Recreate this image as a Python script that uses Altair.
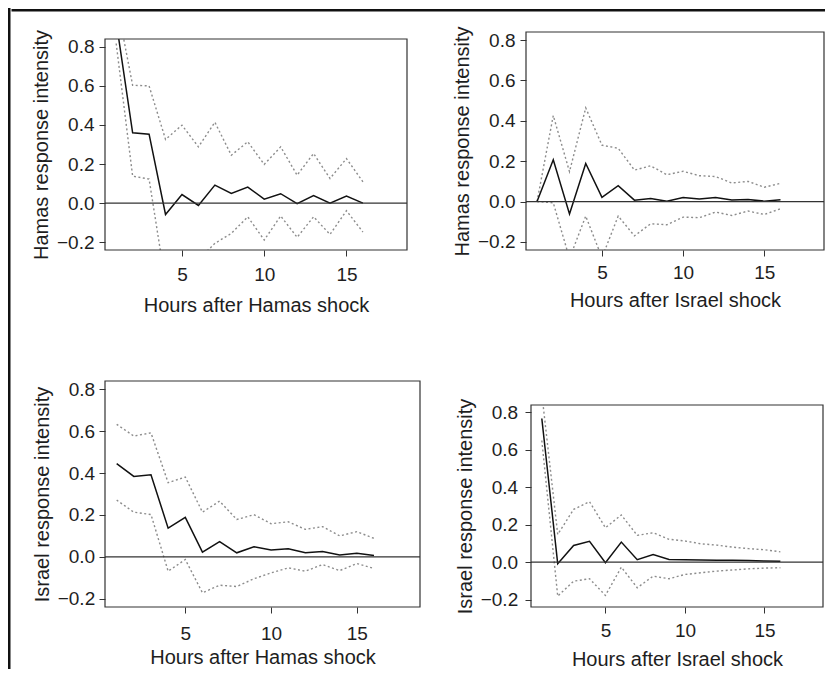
import altair as alt
import pandas as pd

# ---------------- data ----------------
hours = list(range(1, 17))

# Hamas response to a Hamas shock
hh_est = [0.93, 0.36, 0.353, -0.058, 0.044, -0.012, 0.092, 0.05, 0.082, 0.02, 0.048, -0.003, 0.038, 0.0, 0.036, 0.0]
hh_hi = [1.04, 0.603, 0.60, 0.326, 0.399, 0.288, 0.414, 0.245, 0.314, 0.198, 0.288, 0.143, 0.254, 0.126, 0.228, 0.109]
hh_lo = [0.817, 0.138, 0.123, -0.41, -0.31, -0.29, -0.206, -0.155, -0.07, -0.189, -0.066, -0.175, -0.07, -0.16, -0.039, -0.148]

# Hamas response to an Israel shock
hi_est = [0.0, 0.207, -0.062, 0.189, 0.021, 0.079, 0.007, 0.015, 0.002, 0.02, 0.013, 0.02, 0.008, 0.01, 0.002, 0.009]
hi_hi = [0.0, 0.426, 0.148, 0.464, 0.279, 0.264, 0.156, 0.177, 0.133, 0.15, 0.128, 0.124, 0.092, 0.1, 0.071, 0.09]
hi_lo = [0.0, -0.006, -0.282, -0.072, -0.278, -0.072, -0.17, -0.11, -0.115, -0.077, -0.08, -0.052, -0.069, -0.047, -0.064, -0.036]

# Israel response to a Hamas shock
ih_est = [0.445, 0.384, 0.392, 0.137, 0.188, 0.022, 0.072, 0.019, 0.048, 0.032, 0.038, 0.019, 0.025, 0.008, 0.017, 0.006]
ih_hi = [0.633, 0.577, 0.592, 0.354, 0.381, 0.213, 0.266, 0.178, 0.201, 0.158, 0.167, 0.131, 0.144, 0.1, 0.12, 0.088]
ih_lo = [0.271, 0.213, 0.202, -0.069, -0.013, -0.172, -0.136, -0.142, -0.105, -0.077, -0.053, -0.069, -0.037, -0.066, -0.032, -0.056]

# Israel response to an Israel shock
ii_est = [0.768, -0.009, 0.089, 0.111, -0.003, 0.107, 0.013, 0.04, 0.014, 0.012, 0.011, 0.01, 0.01, 0.009, 0.006, 0.004]
ii_hi = [0.90, 0.148, 0.282, 0.323, 0.184, 0.252, 0.143, 0.157, 0.122, 0.113, 0.098, 0.091, 0.08, 0.072, 0.066, 0.055]
ii_lo = [0.65, -0.182, -0.102, -0.089, -0.178, -0.027, -0.137, -0.075, -0.089, -0.066, -0.057, -0.048, -0.042, -0.036, -0.032, -0.03]

y_ticks = [-0.2, 0.0, 0.2, 0.4, 0.6, 0.8]
x_ticks = [5, 10, 15]

# ---------------- layout (reference pixel positions) ----------------
FX0, FY0, FT = 5, 5, 2.5          # outer frame: left x, top y, thickness
GX0 = FX0 + FT                    # left edge of the panel grid
X_SPLIT, Y_SPLIT = 432, 340
X_END, Y_END = 821, 666

FONT = "Liberation Sans"
TXT = "#1e1e1e"
one = pd.DataFrame({"k": [0]})


def rect(x0, x1, y0, y1, opacity=1.0):
    return alt.Chart(one).mark_rect(color="#111111", opacity=opacity).encode(
        x=alt.value(x0), x2=alt.value(x1), y=alt.value(y0), y2=alt.value(y1)
    )


def pad(x, y):
    return rect(x, x, y, y, opacity=0)


def spacer():
    return pad(0, 0).properties(width=1, height=1)


def panel(est, lo, hi, xtitle, ytitle, L, T, W, H, parts, xlp, xtp, ylp, ytp, dy=0):
    df = pd.DataFrame({
        "hour": hours * 3,
        "value": est + lo + hi,
        "series": ["est"] * 16 + ["lower"] * 16 + ["upper"] * 16,
    })
    x = alt.X("hour:Q", scale=alt.Scale(domain=[0.32, 18.68], nice=False, zero=False),
              axis=alt.Axis(values=x_ticks, format="d", title=xtitle, labelPadding=xlp,
                            titlePadding=xtp, labelFlush=False))
    y = alt.Y("value:Q", scale=alt.Scale(domain=[-0.24, 0.84], nice=False, zero=False),
              axis=alt.Axis(values=y_ticks, format=".1f", title=ytitle, labelPadding=ylp,
                            titlePadding=ytp, labelFlush=False))
    ci = alt.Chart(df).transform_filter(alt.datum.series != "est").mark_line(
        clip=True, color="#8c8c8c", strokeDash=[2, 2.5], strokeWidth=1.4
    ).encode(x=x, y=y, detail="series:N")
    main = alt.Chart(df).transform_filter(alt.datum.series == "est").mark_line(
        clip=True, color="#111111", strokeWidth=1.5
    ).encode(x=x, y=y)
    zero = alt.Chart(one).mark_rule(color="#333333", strokeWidth=1.2).encode(y=alt.datum(0))
    box = alt.Chart(one).mark_rect(filled=False, color="#333333", strokeWidth=1.2).encode(
        x=alt.value(0), x2=alt.value(W), y=alt.value(0), y2=alt.value(H)
    )
    layers = [ci, main, zero, box]
    for p in parts:
        if p == "top_left":
            layers.append(rect(GX0 - L, X_SPLIT - L, FY0 - T, FY0 + FT - T))
        elif p == "top_right":
            layers.append(rect(X_SPLIT - L, X_END - L, FY0 - T, FY0 + FT - T))
        elif p == "pad_bottom":
            layers.append(pad(0, Y_SPLIT - T))
        elif p == "pad_right":
            layers.append(pad(X_SPLIT - L, 0))
        elif p == "pad_left_split":
            layers.append(pad(GX0 - L, Y_SPLIT + dy - T))
        elif p == "pad_split":
            layers.append(pad(X_SPLIT - L, Y_SPLIT + dy - T))
    return alt.layer(*layers).properties(width=W, height=H)


p1 = panel(hh_est, hh_lo, hh_hi, "Hours after Hamas shock", "Hamas response intensity",
           101, 35, 302, 211, ["top_left", "pad_bottom"], 9.6, 10.9, 5, 5)
p2 = panel(hi_est, hi_lo, hi_hi, "Hours after Israel shock", "Hamas response intensity",
           522, 28, 298, 218, ["top_right", "pad_bottom"], 7.6, 7.5, 5, 5)
p3 = panel(ih_est, ih_lo, ih_hi, "Hours after Hamas shock", "Israel response intensity",
           101, 377, 315, 226, ["pad_left_split", "pad_right"], 11.6, 4.2, 4.3, 5, dy=7)
p4 = panel(ii_est, ii_lo, ii_hi, "Hours after Israel shock", "Israel response intensity",
           527, 401, 292, 202, ["pad_split"], 8.2, 9.3, 7.3, 5)

grid = alt.concat(spacer(), spacer(), p1, p2, p3, p4, columns=2, spacing=0,
                  align="none", bounds="full")

left_line = rect(0, FT, 0, Y_END - FY0).properties(width=1, height=1)

chart = alt.hconcat(left_line, grid, spacing=0).properties(
    padding=0, background="white"
).configure_view(
    stroke="transparent", strokeWidth=0
).configure_axis(
    labelFont=FONT, labelFontSize=19, labelColor=TXT,
    titleFont=FONT, titleFontSize=20, titleFontWeight="normal", titleColor=TXT,
    tickColor="#333333", tickSize=6, tickWidth=1, domain=False, grid=False,
)

chart.save("out.html", embed_options={"renderer": "svg", "actions": False})
